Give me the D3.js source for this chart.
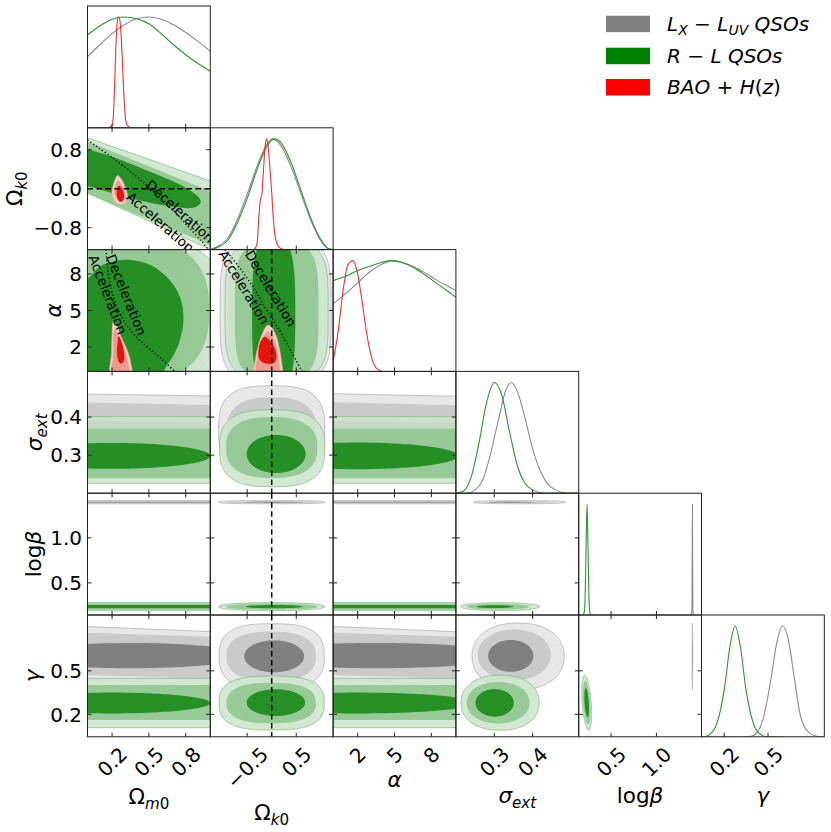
<!DOCTYPE html>
<html><head><meta charset="utf-8">
<script src="https://cdn.jsdelivr.net/npm/d3@7/dist/d3.min.js"></script>
<style>
html,body{margin:0;padding:0;background:#fff;}
svg{display:block;font-family:"DejaVu Sans",sans-serif;}
</style></head><body>
<svg id="chart" width="831" height="832"></svg>
<script>
// ---------------- DATA ----------------
// parameter labels: [text, isSubscript, isItalic]
const paramLabels = [
  [["Ω",0,0],["m",1,1],["0",1,0]],
  [["Ω",0,0],["k",1,1],["0",1,0]],
  [["α",0,1]],
  [["σ",0,1],["ext",1,1]],
  [["log",0,0],["β",0,1]],
  [["γ",0,1]]
];
const paramDomains = [[0,1],[-1.25,1.25],[0,10],[0.2,0.52],[0.143,1.497],[0.045,0.885]];
const xTickValues = [[0.2,0.5,0.8],[-0.5,0.5],[2,5,8],[0.3,0.4],[0.5,1.0],[0.2,0.5]];
const xTickLabels = [["0.2","0.5","0.8"],["−0.5","0.5"],["2","5","8"],["0.3","0.4"],["0.5","1.0"],["0.2","0.5"]];
const yTickValues = [[],[-0.8,0,0.8],[2,5,8],[0.3,0.4],[0.5,1.0],[0.2,0.5]];
const yTickLabels = [[],["−0.8","0.0","0.8"],["2","5","8"],["0.3","0.4"],["0.5","1.0"],["0.2","0.5"]];

const legendLabels = [
  [["L",0,1],["X",1,1],[" − ",0,0],["L",0,1],["UV",1,1],[" QSOs",0,1]],
  [["R",0,1],[" − ",0,0],["L QSOs",0,1]],
  [["BAO",0,1],[" + ",0,0],["H",0,1],["(",0,0],["z",0,1],[")",0,0]]
];
const seriesColors = ["#808080","#008000","#ff0000"];

// 1D marginals (normalised to peak 1), one per parameter
const margLX = [
  [[0,0.64],[0.1,0.75],[0.2,0.85],[0.3,0.93],[0.4,0.985],[0.5,1.0],[0.6,0.98],[0.7,0.93],[0.8,0.86],[0.9,0.78],[1.0,0.69]],
  [[-1.25,0],[-1.1,0.03],[-0.9,0.1],[-0.7,0.27],[-0.5,0.5],[-0.3,0.75],[-0.1,0.95],[0.02,1.0],[0.2,0.93],[0.4,0.74],[0.6,0.5],[0.8,0.26],[1.0,0.08],[1.15,0.01],[1.25,0]],
  [[0,0.61],[1,0.7],[2,0.8],[3,0.9],[4,0.97],[4.8,1.0],[5.5,0.99],[6.5,0.95],[7.5,0.89],[8.5,0.82],[9.5,0.76],[10,0.73]],
  [[0.2,0],[0.23,0],[0.25,0.03],[0.27,0.12],[0.29,0.35],[0.31,0.65],[0.33,0.93],[0.345,1.0],[0.36,0.92],[0.38,0.68],[0.40,0.4],[0.42,0.2],[0.44,0.08],[0.46,0.03],[0.49,0],[0.52,0]],
  [[1.385,0],[1.392,0.05],[1.397,1.0],[1.402,0.05],[1.409,0]],
  [[0.045,0],[0.37,0],[0.42,0.03],[0.47,0.18],[0.52,0.52],[0.56,0.85],[0.60,1.0],[0.64,0.87],[0.68,0.53],[0.72,0.2],[0.77,0.05],[0.82,0.01],[0.885,0]]
];
const margRL = [
  [[0,0.84],[0.1,0.92],[0.2,0.98],[0.3,1.0],[0.4,0.985],[0.5,0.94],[0.6,0.85],[0.7,0.75],[0.8,0.66],[0.9,0.58],[1.0,0.51]],
  [[-1.25,0],[-1.1,0.02],[-0.9,0.08],[-0.7,0.24],[-0.5,0.46],[-0.3,0.72],[-0.1,0.93],[0.05,1.0],[0.2,0.96],[0.4,0.78],[0.6,0.53],[0.8,0.28],[1.0,0.09],[1.15,0.01],[1.25,0]],
  [[0,0.82],[1,0.86],[2,0.91],[3,0.95],[4,0.985],[4.7,1.0],[5.5,0.985],[6.5,0.94],[7.5,0.87],[8.5,0.79],[9.5,0.71],[10,0.67]],
  [[0.2,0],[0.22,0.02],[0.24,0.15],[0.26,0.45],[0.28,0.82],[0.30,1.0],[0.32,0.88],[0.34,0.55],[0.36,0.25],[0.38,0.09],[0.40,0.03],[0.43,0],[0.52,0]],
  [[0.143,0],[0.19,0],[0.205,0.03],[0.215,0.2],[0.225,0.65],[0.235,1.0],[0.245,0.65],[0.255,0.2],[0.265,0.03],[0.28,0],[0.3,0]],
  [[0.045,0],[0.06,0],[0.1,0.02],[0.15,0.12],[0.2,0.42],[0.24,0.82],[0.275,1.0],[0.31,0.82],[0.35,0.42],[0.4,0.12],[0.45,0.02],[0.5,0],[0.6,0]]
];
const margBAO = [
  [[0.17,0],[0.2,0.02],[0.21,0.1],[0.22,0.35],[0.23,0.7],[0.24,0.93],[0.25,1.0],[0.26,0.99],[0.27,0.9],[0.28,0.7],[0.29,0.45],[0.30,0.22],[0.31,0.08],[0.32,0.03],[0.35,0]],
  [[-0.36,0],[-0.3,0.05],[-0.26,0.3],[-0.23,0.45],[-0.2,0.5],[-0.17,0.7],[-0.13,0.95],[-0.1,1.0],[-0.07,0.92],[-0.03,0.7],[0.0,0.52],[0.03,0.3],[0.06,0.15],[0.1,0.06],[0.15,0.02],[0.25,0]],
  [[0,0.09],[0.4,0.35],[0.8,0.72],[1.2,0.96],[1.6,1.0],[2.0,0.88],[2.4,0.6],[2.8,0.3],[3.2,0.1],[3.6,0.02],[4.0,0]],
  null, null, null
];

// 2D contours: r = row (y param), c = col (x param), lv: 0 outer,1 middle,2 inner
// e: [cx, cy, sx, sy, rho, exponent]   poly: points (lin = straight edges)
const contLX = [
  {r:2,c:0,lv:0,e:[0.2,5,0.82,6.5,0,3.5]},
  {r:2,c:0,lv:1,e:[0.2,5,0.79,6.2,0,3.5]},
  {r:2,c:0,lv:2,e:[0.2,5,0.66,6,0,3]},
  {r:2,c:1,lv:0,e:[0.08,5,1.13,5.9,0,4]},
  {r:2,c:1,lv:1,e:[0.05,5,0.93,5.7,0,4]},
  {r:2,c:1,lv:2,e:[0.03,5,0.45,7,0,3]},
  {r:3,c:0,lv:0,lin:1,poly:[[-0.5,0.463],[1.5,0.453],[1.5,0.256],[-0.5,0.256]]},
  {r:3,c:0,lv:1,lin:1,poly:[[-0.5,0.442],[1.5,0.428],[1.5,0.272],[-0.5,0.272]]},
  {r:3,c:0,lv:2,lin:1,poly:[[-0.5,0.392],[1.5,0.385],[1.5,0.305],[-0.5,0.305]]},
  {r:3,c:1,lv:0,e:[0,0.365,1.08,0.117,0,3]},
  {r:3,c:1,lv:1,e:[0,0.36,0.92,0.092,0,2.6]},
  {r:3,c:1,lv:2,e:[0.02,0.348,0.6,0.05,0,2]},
  {r:3,c:2,lv:0,lin:1,poly:[[-1,0.462],[11,0.454],[11,0.256],[-1,0.256]]},
  {r:3,c:2,lv:1,lin:1,poly:[[-1,0.44],[11,0.43],[11,0.272],[-1,0.272]]},
  {r:3,c:2,lv:2,lin:1,poly:[[-1,0.39],[11,0.385],[11,0.305],[-1,0.305]]},
  {r:4,c:0,lv:0,lin:1,poly:[[-0.5,1.414],[1.5,1.414],[1.5,1.38],[-0.5,1.38]]},
  {r:4,c:0,lv:1,lin:1,poly:[[-0.5,1.408],[1.5,1.408],[1.5,1.386],[-0.5,1.386]]},
  {r:4,c:0,lv:2,lin:1,poly:[[-0.5,1.401],[1.5,1.401],[1.5,1.393],[-0.5,1.393]]},
  {r:4,c:1,lv:0,e:[0,1.397,1.08,0.017,0,3]},
  {r:4,c:1,lv:1,e:[0,1.397,0.92,0.011,0,2.6]},
  {r:4,c:1,lv:2,e:[0.02,1.397,0.6,0.005,0,2]},
  {r:4,c:2,lv:0,lin:1,poly:[[-1,1.414],[11,1.414],[11,1.38],[-1,1.38]]},
  {r:4,c:2,lv:1,lin:1,poly:[[-1,1.408],[11,1.408],[11,1.386],[-1,1.386]]},
  {r:4,c:2,lv:2,lin:1,poly:[[-1,1.401],[11,1.401],[11,1.393],[-1,1.393]]},
  {r:4,c:3,lv:0,e:[0.366,1.397,0.12,0.017,0,2.5]},
  {r:4,c:3,lv:1,e:[0.36,1.397,0.095,0.011,0,2.3]},
  {r:4,c:3,lv:2,e:[0.345,1.397,0.06,0.005,0,2]},
  {r:5,c:0,lv:0,lin:1,poly:[[-0.5,0.824],[1.5,0.752],[1.5,0.382],[-0.5,0.456]]},
  {r:5,c:0,lv:1,lin:1,poly:[[-0.5,0.776],[1.5,0.722],[1.5,0.432],[-0.5,0.484]]},
  {r:5,c:0,lv:2,e:[0.35,0.605,0.95,0.087,0,2]},
  {r:5,c:1,lv:0,e:[0,0.60,1.07,0.225,0,2.8]},
  {r:5,c:1,lv:1,e:[-0.01,0.60,0.91,0.17,0,2.5]},
  {r:5,c:1,lv:2,e:[0.05,0.60,0.61,0.11,0,2]},
  {r:5,c:2,lv:0,lin:1,poly:[[-1,0.81],[11,0.766],[11,0.396],[-1,0.441]]},
  {r:5,c:2,lv:1,lin:1,poly:[[-1,0.765],[11,0.732],[11,0.442],[-1,0.474]]},
  {r:5,c:2,lv:2,e:[3.5,0.605,11,0.087,0,2]},
  {r:5,c:3,lv:0,e:[0.362,0.60,0.12,0.23,0,2.2]},
  {r:5,c:3,lv:1,e:[0.352,0.61,0.095,0.175,0,2.1]},
  {r:5,c:3,lv:2,e:[0.343,0.603,0.059,0.11,0,2]},
  {r:5,c:4,lv:0,e:[1.397,0.60,0.005,0.23,0,2]},
  {r:5,c:4,lv:1,e:[1.397,0.60,0.0035,0.17,0,2]},
  {r:5,c:4,lv:2,e:[1.397,0.60,0.002,0.11,0,2]}
];
const contRL = [
  {r:1,c:0,lv:0,lin:1,poly:[[-0.1,1.134],[1.1,0.071],[1.1,-1.366],[-0.1,0.031]]},
  {r:1,c:0,lv:1,lin:1,poly:[[-0.1,1.07],[1.1,-0.155],[1.1,-1.26],[-0.1,0.0]]},
  {r:1,c:0,lv:2,poly:[[-0.3,0.85],[0,0.806],[0.12,0.72],[0.26,0.60],[0.53,0.326],[0.80,0.02],[0.91,-0.19],[0.92,-0.3],[0.86,-0.39],[0.67,-0.36],[0.395,-0.22],[0.15,-0.05],[0,0.05],[-0.3,0.1]]},
  {r:2,c:0,lv:0,e:[0.2,4,0.95,7,0,3]},
  {r:2,c:0,lv:1,e:[0.2,5,0.79,6.2,0,2.6]},
  {r:2,c:0,lv:2,poly:[[-0.3,6.0],[0.0,7.6],[0.1,8.6],[0.2,9.0],[0.35,9.15],[0.5,8.8],[0.62,8.0],[0.72,6.8],[0.77,5.5],[0.78,4.0],[0.75,2.5],[0.7,1.3],[0.63,0.2],[0.58,-1.5],[-0.3,-1.5]]},
  {r:2,c:1,lv:0,e:[0.1,5,1.05,5.6,0,4]},
  {r:2,c:1,lv:1,e:[0.1,5,0.85,5.5,0,4]},
  {r:2,c:1,lv:2,e:[0.04,4.7,0.44,6.5,0,3]},
  {r:3,c:0,lv:0,lin:1,poly:[[-0.5,0.401],[1.5,0.401],[1.5,0.226],[-0.5,0.226]]},
  {r:3,c:0,lv:1,lin:1,poly:[[-0.5,0.37],[1.5,0.37],[1.5,0.239],[-0.5,0.239]]},
  {r:3,c:0,lv:2,e:[0.2,0.298,0.8,0.034,0,2]},
  {r:3,c:1,lv:0,e:[0.01,0.318,1.07,0.101,0,2.8]},
  {r:3,c:1,lv:1,e:[0,0.32,0.93,0.08,0,2.5]},
  {r:3,c:1,lv:2,e:[0.09,0.303,0.6,0.05,0,2]},
  {r:3,c:2,lv:0,lin:1,poly:[[-1,0.401],[11,0.401],[11,0.226],[-1,0.226]]},
  {r:3,c:2,lv:1,lin:1,poly:[[-1,0.37],[11,0.37],[11,0.239],[-1,0.239]]},
  {r:3,c:2,lv:2,e:[2,0.298,8.2,0.035,0,2]},
  {r:4,c:0,lv:0,lin:1,poly:[[-0.5,0.281],[1.5,0.281],[1.5,0.191],[-0.5,0.191]]},
  {r:4,c:0,lv:1,lin:1,poly:[[-0.5,0.27],[1.5,0.27],[1.5,0.202],[-0.5,0.202]]},
  {r:4,c:0,lv:2,lin:1,poly:[[-0.5,0.253],[1.5,0.253],[1.5,0.218],[-0.5,0.218]]},
  {r:4,c:1,lv:0,e:[0,0.236,1.08,0.045,0,2.2]},
  {r:4,c:1,lv:1,e:[0,0.236,0.93,0.034,0,2.2]},
  {r:4,c:1,lv:2,e:[0.05,0.236,0.58,0.018,0,2]},
  {r:4,c:2,lv:0,lin:1,poly:[[-1,0.281],[11,0.281],[11,0.191],[-1,0.191]]},
  {r:4,c:2,lv:1,lin:1,poly:[[-1,0.27],[11,0.27],[11,0.202],[-1,0.202]]},
  {r:4,c:2,lv:2,lin:1,poly:[[-1,0.253],[11,0.253],[11,0.218],[-1,0.218]]},
  {r:4,c:3,lv:0,e:[0.315,0.236,0.103,0.045,0,2]},
  {r:4,c:3,lv:1,e:[0.31,0.236,0.082,0.032,0,2]},
  {r:4,c:3,lv:2,e:[0.302,0.236,0.048,0.016,0,2]},
  {r:5,c:0,lv:0,lin:1,poly:[[-0.5,0.448],[1.5,0.448],[1.5,0.108],[-0.5,0.108]]},
  {r:5,c:0,lv:1,lin:1,poly:[[-0.5,0.402],[1.5,0.402],[1.5,0.161],[-0.5,0.161]]},
  {r:5,c:0,lv:2,e:[0.2,0.278,0.8,0.072,0,2]},
  {r:5,c:1,lv:0,e:[0,0.278,1.07,0.186,0,2.8]},
  {r:5,c:1,lv:1,e:[-0.01,0.278,0.91,0.14,0,2.5]},
  {r:5,c:1,lv:2,e:[0.085,0.281,0.595,0.092,0,2]},
  {r:5,c:2,lv:0,lin:1,poly:[[-1,0.448],[11,0.448],[11,0.108],[-1,0.108]]},
  {r:5,c:2,lv:1,lin:1,poly:[[-1,0.402],[11,0.402],[11,0.161],[-1,0.161]]},
  {r:5,c:2,lv:2,e:[2,0.278,9.5,0.072,0,2]},
  {r:5,c:3,lv:0,e:[0.315,0.28,0.102,0.19,0,2.2]},
  {r:5,c:3,lv:1,e:[0.31,0.28,0.082,0.143,0,2.1]},
  {r:5,c:3,lv:2,e:[0.301,0.279,0.05,0.095,0,2]},
  {r:5,c:4,lv:0,e:[0.231,0.28,0.055,0.19,-0.4,2]},
  {r:5,c:4,lv:1,e:[0.231,0.28,0.042,0.15,-0.4,2]},
  {r:5,c:4,lv:2,e:[0.231,0.28,0.025,0.1,-0.4,2]}
];
const contBAO = [
  {r:1,c:0,lv:0,poly:[[0.245,0.27],[0.275,0.2],[0.3,0.08],[0.322,-0.08],[0.325,-0.2],[0.3,-0.3],[0.265,-0.33],[0.225,-0.27],[0.2,-0.12],[0.205,0.03],[0.222,0.17]]},
  {r:1,c:0,lv:1,poly:[[0.25,0.17],[0.275,0.08],[0.298,-0.05],[0.305,-0.17],[0.29,-0.25],[0.262,-0.27],[0.235,-0.2],[0.218,-0.08],[0.223,0.05],[0.236,0.13]]},
  {r:1,c:0,lv:2,poly:[[0.258,0.06],[0.285,-0.02],[0.298,-0.13],[0.29,-0.24],[0.265,-0.27],[0.242,-0.18],[0.238,-0.05],[0.245,0.03]]},
  {r:2,c:0,lv:0,poly:[[0.21,4.1],[0.235,3.8],[0.27,2.9],[0.32,1.8],[0.35,0.8],[0.36,-1],[0.19,-1],[0.195,1.5],[0.2,3.0]]},
  {r:2,c:0,lv:1,poly:[[0.222,3.5],[0.25,3.0],[0.29,2.0],[0.325,1.0],[0.335,-1],[0.205,-1],[0.21,1.5],[0.212,3.0]]},
  {r:2,c:0,lv:2,poly:[[0.255,2.9],[0.275,2.5],[0.295,1.8],[0.3,1.1],[0.29,0.75],[0.27,0.65],[0.25,0.9],[0.24,1.6],[0.245,2.4]]},
  {r:2,c:1,lv:0,poly:[[-0.08,3.8],[0.0,3.6],[0.1,2.8],[0.17,1.6],[0.21,0.5],[0.22,-1],[-0.36,-1],[-0.34,0.8],[-0.28,2.0],[-0.18,3.2]]},
  {r:2,c:1,lv:1,poly:[[-0.08,3.3],[0.02,2.9],[0.1,2.0],[0.14,1.0],[0.15,-1],[-0.3,-1],[-0.3,1.0],[-0.24,2.0],[-0.16,2.9]]},
  {r:2,c:1,lv:2,poly:[[-0.15,2.85],[-0.05,2.6],[0.05,2.0],[0.1,1.2],[0.05,0.7],[-0.12,0.65],[-0.25,1.0],[-0.27,1.8],[-0.22,2.5]]}
];

// q0 = 0 boundaries (dotted)
const accelOmOk = [[0,1.0],[0.2,0.64],[0.395,0.26],[0.5,0.03],[0.666,-0.36],[0.8,-0.72],[0.94,-1.11],[1.0,-1.3]];
const accelOmAlpha = [[0.15,10],[0.17,8],[0.2,6.5],[0.25,5],[0.32,3.8],[0.4,2.8],[0.5,1.9],[0.6,1.05],[0.71,0]];
const accelOkAlpha = [[-0.95,10],[-0.65,8.5],[-0.36,6.8],[-0.1,5.0],[0.17,3.3],[0.4,1.6],[0.62,0]];
const accelCurves = [{r:1,c:0,pts:accelOmOk},{r:2,c:0,pts:accelOmAlpha},{r:2,c:1,pts:accelOkAlpha}];
const flatLines = [{r:1,c:0,dir:"h",v:0},{r:2,c:1,dir:"v",v:0},{r:3,c:1,dir:"v",v:0},{r:4,c:1,dir:"v",v:0},{r:5,c:1,dir:"v",v:0}];
const annotations = [
  {r:1,c:0,text:"Deceleration",x:0.466,y:0.05,a:41.8},
  {r:1,c:0,text:"Acceleration",x:0.31,y:-0.2,a:41},
  {r:2,c:0,text:"Deceleration",x:0.149,y:9.41,a:68},
  {r:2,c:0,text:"Acceleration",x:0.007,y:9.38,a:69},
  {r:2,c:1,text:"Deceleration",x:-0.555,y:9.64,a:59},
  {r:2,c:1,text:"Acceleration",x:-1.095,y:9.64,a:58.5}
];

// ---------------- RENDER ----------------
const svg = d3.select("#chart");
const L=87.5, T=6, PW=122.8, PH=121.8, TK=4;
const px = c => L + c*PW, py = r => T + r*PH;
const xs = c => d3.scaleLinear().domain(paramDomains[c]).range([px(c), px(c)+PW]);
const ys = r => d3.scaleLinear().domain(paramDomains[r]).range([py(r)+PH, py(r)]);

const fills = [
  {f:["#e7e7e7","#cacaca","#808080"], s:"#a9a9a9", o:1},
  {f:["#cde5cd","#90c590","#168616"], s:"#7db97d", o:0.88},
  {f:["#f3cfc5","#ec9a8e","#e3150c"], s:"#e9a597", o:1}
];

function mathText(sel, parts, fs){
  let sub=false;
  parts.forEach(([t,s,it])=>{
    const ts = sel.append("tspan").text(t).attr("font-style", it?"italic":"normal");
    if(s){ ts.attr("font-size", fs*0.7); if(!sub) ts.attr("dy", fs*0.22); }
    else { ts.attr("font-size", fs); if(sub) ts.attr("dy", -fs*0.22); }
    sub = !!s;
  });
}

function shapePts(s){
  if(s.poly) return s.poly;
  const [cx,cy,sx,sy,rho,p] = s.e, q = Math.sqrt(1-rho*rho);
  return d3.range(0,360,2).map(a=>{
    const t=a*Math.PI/180, co=Math.cos(t), si=Math.sin(t);
    const u=Math.sign(co)*Math.pow(Math.abs(co),2/p), v=Math.sign(si)*Math.pow(Math.abs(si),2/p);
    return [cx+sx*u, cy+sy*(rho*u+q*v)];
  });
}

const defs = svg.append("defs");
const gPanels = svg.append("g");
const gAxes = svg.append("g");

for(let r=0;r<6;r++){
  for(let c=0;c<=r;c++){
    const id=`clip${r}${c}`;
    defs.append("clipPath").attr("id",id).append("rect")
      .attr("x",px(c)).attr("y",py(r)).attr("width",PW).attr("height",PH);
    const g = gPanels.append("g").attr("clip-path",`url(#${id})`);
    const X = xs(c);
    if(r===c){
      const Y = d3.scaleLinear().domain([0,1.1]).range([py(r)+PH, py(r)]);
      const line = d3.line().x(d=>X(d[0])).y(d=>Y(d[1])).curve(d3.curveMonotoneX);
      [margLX, margRL, margBAO].forEach((m,k)=>{
        if(!m[c]) return;
        g.append("path").attr("d", line(m[c])).attr("fill","none")
          .attr("stroke", ["#8a8a8a","#2c952c","#ff2a2a"][k]).attr("stroke-width",1.1);
      });
    } else {
      const Y = ys(r);
      [contLX, contRL, contBAO].forEach((arr,k)=>{
        arr.filter(s=>s.r===r && s.c===c).sort((a,b)=>a.lv-b.lv).forEach(s=>{
          const curve = s.poly ? (s.lin ? d3.curveLinearClosed : d3.curveCatmullRomClosed.alpha(0.5)) : d3.curveLinearClosed;
          const path = d3.line().x(d=>X(d[0])).y(d=>Y(d[1])).curve(curve)(shapePts(s));
          g.append("path").attr("d",path).attr("fill",fills[k].f[s.lv]).attr("fill-opacity",fills[k].o)
            .attr("stroke", s.lv===0 ? fills[k].s : "none").attr("stroke-width",0.7);
        });
      });
      flatLines.filter(d=>d.r===r && d.c===c).forEach(d=>{
        const ln = g.append("line").attr("stroke","#000").attr("stroke-width",1.5).attr("stroke-dasharray","5.5,3.5");
        if(d.dir==="h") ln.attr("x1",px(c)).attr("x2",px(c)+PW).attr("y1",Y(d.v)).attr("y2",Y(d.v));
        else ln.attr("x1",X(d.v)).attr("x2",X(d.v)).attr("y1",py(r)).attr("y2",py(r)+PH);
      });
      accelCurves.filter(d=>d.r===r && d.c===c).forEach(d=>{
        g.append("path").attr("d", d3.line().x(p=>X(p[0])).y(p=>Y(p[1])).curve(d3.curveCatmullRom)(d.pts))
          .attr("fill","none").attr("stroke","#000").attr("stroke-width",1.4).attr("stroke-dasharray","1.2,2.3");
      });
      annotations.filter(d=>d.r===r && d.c===c).forEach(d=>{
        g.append("text").attr("transform",`translate(${X(d.x)},${Y(d.y)}) rotate(${d.a})`)
          .attr("font-size",13.5).attr("fill","#000").text(d.text);
      });
    }
  }
}

// frames & ticks
function seg(x1,y1,x2,y2){ gAxes.append("line").attr("x1",x1).attr("y1",y1).attr("x2",x2).attr("y2",y2).attr("stroke","#222").attr("stroke-width",1); }
for(let r=0;r<6;r++){
  for(let c=0;c<=r;c++){
    const x0=px(c), y0=py(r), x1=x0+PW, y1=y0+PH, X=xs(c);
    gAxes.append("rect").attr("x",x0).attr("y",y0).attr("width",PW).attr("height",PH)
      .attr("fill","none").attr("stroke","#222").attr("stroke-width",1);
    xTickValues[c].forEach(v=>{ const x=X(v); seg(x,y1,x,y1-TK); if(r!==c) seg(x,y0,x,y0+TK); });
    if(r!==c){ const Y=ys(r); yTickValues[r].forEach(v=>{ const y=Y(v); seg(x0,y,x0+TK,y); seg(x1,y,x1-TK,y); }); }
  }
}

// y tick labels (left column)
const FS=20;
for(let r=1;r<6;r++){
  const Y=ys(r);
  yTickValues[r].forEach((v,i)=>{
    gAxes.append("text").attr("x",px(0)-5.5).attr("y",Y(v)+7.3).attr("text-anchor","end")
      .attr("font-size",FS).attr("fill","#000").text(yTickLabels[r][i]);
  });
}
// x tick labels (bottom row), rotated 45°
const yBot = py(5)+PH;
for(let c=0;c<6;c++){
  const X=xs(c);
  xTickValues[c].forEach((v,i)=>{
    const t = gAxes.append("text").attr("text-anchor","end").attr("font-size",FS).attr("fill","#000").text(xTickLabels[c][i]);
    const w = t.node().getComputedTextLength(), h = FS*0.73;
    const ax = X(v) + 0.7071*(w+h)/2, ay = yBot + 8.5 + 0.7071*h;
    t.attr("transform",`translate(${ax},${ay}) rotate(-45)`);
  });
}
// axis labels
const xLabBase = [804,820,787,803,803,803];
for(let c=0;c<6;c++){
  const t = gAxes.append("text").attr("x",px(c)+PW/2).attr("y",xLabBase[c]).attr("text-anchor","middle").attr("fill","#000");
  mathText(t, paramLabels[c], 21.5);
}
const yLabBase = [0,22,60.5,42,40.5,39.5];
for(let r=1;r<6;r++){
  const t = gAxes.append("text").attr("text-anchor","middle").attr("fill","#000")
    .attr("transform",`translate(${yLabBase[r]},${py(r)+PH/2}) rotate(-90)`);
  mathText(t, paramLabels[r], 21.5);
}

// legend
const legY = [15.7,47.7,79];
legendLabels.forEach((parts,i)=>{
  gAxes.append("rect").attr("x",606).attr("y",legY[i]).attr("width",44).attr("height",16.5).attr("fill",seriesColors[i]);
  const t = gAxes.append("text").attr("x",667).attr("y",legY[i]+15).attr("fill","#000");
  mathText(t, parts, 20);
});
</script></body></html>
